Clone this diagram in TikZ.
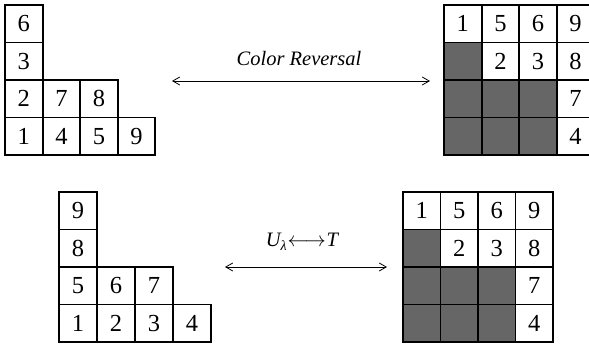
\documentclass[tikz,border=0pt]{standalone}
\usepackage{fontspec}
\setmainfont{Liberation Serif}
\newfontfamily\tabfont{Liberation Serif}
\usetikzlibrary{arrows.meta}
\definecolor{shade}{RGB}{102,102,102}
\begin{document}
\begin{tikzpicture}[x=1pt,y=-1pt,
  cell/.style={draw=black,line width=1.9pt,minimum width=37.6pt,minimum height=37.5pt,inner sep=0pt,
    font=\tabfont\fontsize{24.5}{24.5}\selectfont},
  dark/.style={cell,fill=shade},
  lab/.style={font=\tabfont\fontsize{20.5}{24}\selectfont,inner sep=0pt},
  conn/.style={line width=0.8pt,{Straight Barb[length=7pt,width=8pt]}-{Straight Barb[length=7pt,width=8pt]}}]
\clip (0,0) rectangle (589,344);
% top-left tableau
\foreach \c/\r/\v in {1/1/6,1/2/3,1/3/2,2/3/7,3/3/8,1/4/1,2/4/4,3/4/5,4/4/9}
  \node[cell] (A\c\r) at ({5+(\c-0.5)*37.6},{5+(\r-0.5)*37.5}) {\v};
% top-right tableau
\foreach \c/\r in {1/2,1/3,2/3,3/3,1/4,2/4,3/4}
  \node[dark] (B\c\r) at ({444+(\c-0.5)*37.6},{5+(\r-0.5)*37.5}) {};
\foreach \c/\r/\v in {1/1/1,2/1/5,3/1/6,4/1/9,2/2/2,3/2/3,4/2/8,4/3/7,4/4/4}
  \node[cell] (B\c\r) at ({444+(\c-0.5)*37.6},{5+(\r-0.5)*37.5}) {\v};
% bottom-left tableau
\foreach \c/\r/\v in {1/1/9,1/2/8,1/3/5,2/3/6,3/3/7,1/4/1,2/4/2,3/4/3,4/4/4}
  \node[cell,minimum width=38pt] (C\c\r) at ({59+(\c-0.5)*38},{192+(\r-0.5)*37.5}) {\v};
% bottom-right tableau
\foreach \c/\r in {1/2,1/3,2/3,3/3,1/4,2/4,3/4}
  \node[dark,minimum width=37.5pt] (D\c\r) at ({403+(\c-0.5)*37.5},{192+(\r-0.5)*37.5}) {};
\foreach \c/\r/\v in {1/1/1,2/1/5,3/1/6,4/1/9,2/2/2,3/2/3,4/2/8,4/3/7,4/4/4}
  \node[cell,minimum width=37.5pt] (D\c\r) at ({403+(\c-0.5)*37.5},{192+(\r-0.5)*37.5}) {\v};
% labels and arrows
\node[lab] (L1) at (299,58) {\itshape Color Reversal};
\coordinate (a1) at (172,81);
\coordinate (b1) at (430,81);
\draw[conn] (a1) -- (b1);
\node[lab] (L2) at (302,242) {\itshape U\raisebox{-0.45ex}{\fontsize{14}{14}\selectfont λ}\kern1pt\upshape$\longleftrightarrow$\kern1pt\itshape T};
\coordinate (a2) at (225,267);
\coordinate (b2) at (387,267);
\draw[conn] (a2) -- (b2);
\end{tikzpicture}
\end{document}
